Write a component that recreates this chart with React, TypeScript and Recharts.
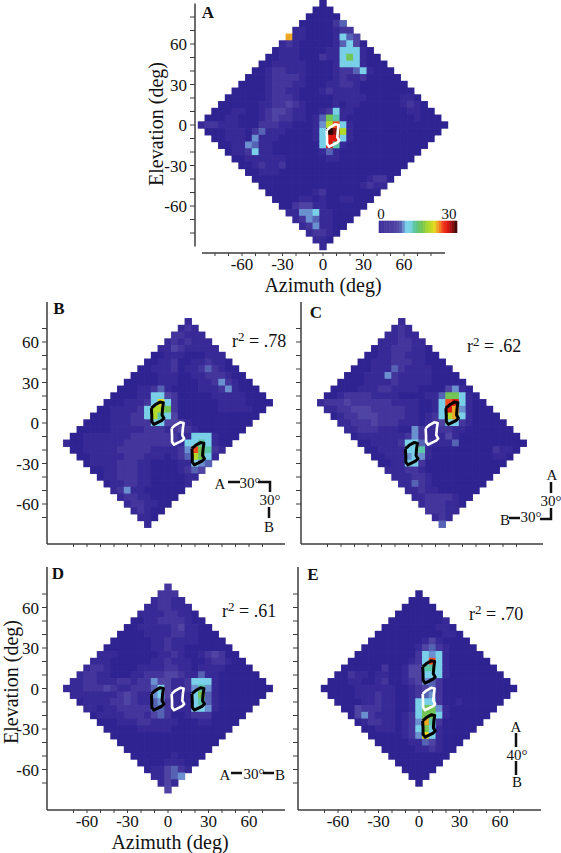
import { Bar, BarChart, ReferenceLine, Scatter, ScatterChart, XAxis, YAxis } from "recharts";

type Row = [number, string];

// one hex digit per cell, value = digit * 2 (0-30); first number is the azimuth index of the first cell
const levelColors = [
  "#2f2391", "#382a96", "#43359c", "#4f44a3", "#5662b3", "#6a90cf", "#79cfe8", "#5cc6a8",
  "#72c455", "#b5d928", "#e3d81f", "#eda725", "#f24c1e", "#dc1a10", "#8a0f10", "#2a0606",
];

// colour bar, one stop per unit from 0 to 30
const barColors = [
  "#3d2f98", "#42349c", "#45379d", "#483a9e", "#4a3ca0", "#4d3fa1", "#4f44a3", "#5249a6",
  "#5660b0", "#6a90cf", "#79cfe8", "#7bd3e8", "#75d0d8", "#5cc6a8", "#60c58c", "#68c46a",
  "#72c455", "#88cb42", "#a5d532", "#b5d928", "#cfd922", "#e3d81f", "#eda725", "#f5801f",
  "#f24c1e", "#ee2a18", "#dc1a10", "#b01010", "#8a0f10", "#4a0808",
];

const rowsA: Row[] = [
  [0, "0"], [-1, "000"], [-2, "00000"], [-3, "0000024"], [-4, "110000122"],
  [-5, "b1100001643"], [-6, "1210000014630"], [-7, "011100001166610"],
  [-8, "00111000211686100"], [-9, "0011111000016661000"], [-10, "001221110000122461000"],
  [-11, "00012222100001211200000"], [-12, "0000122211000112210000000"],
  [-13, "000001221100012111100000000"], [-14, "00000012221000001111100000110"],
  [-15, "0000001122321000010110000001210"], [-16, "000110012332110012611000000001100"],
  [-17, "00011000123221101487100000000001000"], [-18, "122111000222110001" + "59c61" + "00000000000000"],
  [-17, "00011102411100001" + "6fe91" + "0000000000000"], [-16, "0011105111000001" + "6dd61" + "000000000000"],
  [-15, "001154110000000" + "6d71" + "000000000000"], [-14, "01126110000000" + "141" + "000000000000"],
  [-13, "0011111100000" + "01100000000000"], [-12, "0012112000000000000000000"],
  [-11, "00111000000000000000000"], [-10, "000000000000000001220"], [-9, "0000000000000001211"],
  [-8, "00000001200000000"], [-7, "000011010011000"], [-6, "0023311000000"], [-5, "11556110000"],
  [-4, "125411000"], [-3, "1251100"], [-2, "12210"], [-1, "110"], [0, "1"],
];

const rowsB: Row[] = [
  [3, "1"], [2, "121"], [1, "22111"], [0, "1212111"], [-1, "113211111"], [-2, "00111000111"],
  [-3, "0011200112110"], [-4, "001112011242100"], [-5, "00001110011222100"],
  [-6, "0000011100011252100"], [-7, "000112410000111251000"], [-8, "00001166320000011111000"],
  [-9, "000111" + "26a62" + "00000011110000"], [-10, "0011112" + "69982" + "0000001111100"],
  [-11, "00011122" + "69763" + "000000000000"], [-12, "0000111222" + "66332" + "1000000000"],
  [-13, "0000011111222" + "123210000000"], [-14, "001111111222222211" + "6661000"],
  [-15, "100111111222222221" + "6676100"], [-14, "00111112222211112" + "5c8721"],
  [-13, "0011111222111012" + "49861"], [-12, "0111122211000011" + "654"], [-11, "001122211000012" + "43"],
  [-10, "011222110000011"], [-9, "0112211000001"], [-8, "12511000000"], [-7, "122110000"],
  [-6, "1221100"], [-5, "12100"], [-4, "110"], [-3, "1"],
];

const rowsC: Row[] = [
  [-3, "1"], [-4, "121"], [-5, "11211"], [-6, "1112211"], [-7, "011222110"], [-8, "00112211100"],
  [-9, "0011122211000"], [-10, "000111421111000"], [-11, "00011152111110000"],
  [-12, "0000111121111100000"], [-13, "00001112211110000" + "3510"], [-14, "00122221111000011" + "488610"],
  [-15, "122232222221111001" + "6cd6100"], [-14, "11223332222211001" + "6db51000"],
  [-13, "0122333222211012" + "69b610000"], [-12, "112223222111012" + "3662100000"],
  [-11, "1122211100" + "52" + "1122110000000"], [-10, "011111112" + "52" + "111" + "3" + "1000000000"],
  [-9, "0011112" + "6642" + "111" + "4" + "0000000000"], [-8, "001111" + "667" + "10000000002110"],
  [-7, "00111" + "565" + "1000000000110"], [-6, "0011" + "662" + "000000000000"],
  [-5, "11122100000000000"], [-4, "111221000000000"], [-3, "1142100000000"], [-2, "11211000000"],
  [-1, "112222100"], [0, "1222110"], [1, "22211"], [2, "121"], [3, "4"],
];

const rowsD: Row[] = [
  [0, "2"], [-1, "222"], [-2, "12211"], [-3, "1122111"], [-4, "111122110"], [-5, "00112222100"],
  [-6, "0011111231100"], [-7, "000011112211000"], [-8, "00000011211110000"],
  [-9, "0000000112110000000"], [-10, "111000000112100123200"], [-11, "11100000011211100122100"],
  [-12, "1221000011112211011110000"], [-13, "122110001122233211" + "4" + "11000000"],
  [-14, "112211122122" + "533112666" + "10000000"], [-15, "1112223211222" + "463112575" + "100000000"],
  [-14, "111111123211" + "563111684" + "10000000"], [-13, "01111223211" + "452111674" + "1000000"],
  [-12, "1101122222" + "442111665" + "100000"], [-11, "011112221" + "342001222" + "00000"],
  [-10, "000111221111000110000"], [-9, "0000011111000000000"], [-8, "00000000000000000"],
  [-7, "000000000000000"], [-6, "0000000000000"], [-5, "00000010000"], [-4, "000011100"],
  [-3, "0113421"], [-2, "11345"], [-1, "131"], [0, "3"],
];

const rowsE: Row[] = [
  [0, "0"], [-1, "000"], [-2, "00000"], [-3, "0000000"], [-4, "000000001"], [-5, "00000000110"],
  [-6, "0000000000110"], [-7, "000000001310000"], [-8, "000000001" + "342" + "10000"],
  [-9, "000000000" + "2656" + "100000"], [-10, "00000000012" + "6c6" + "1000000"],
  [-11, "00000020013" + "3776" + "10000000"], [-12, "002110110013" + "3666" + "100000000"],
  [-13, "0001100120012" + "3542" + "0000000000"], [-14, "00000111111001" + "2342" + "00000000000"],
  [-13, "0000111211001" + "2452" + "0000000000"], [-12, "000011211001" + "6662" + "001000000"],
  [-11, "00322211001" + "6885" + "10000000"], [-10, "0352111012" + "6886" + "1000000"],
  [-9, "012211012" + "5b72" + "000000"], [-8, "00111012" + "6861" + "00000"],
  [-7, "0000012" + "5a61" + "0000"], [-6, "000001" + "1431" + "000"], [-5, "00000112100"],
  [-4, "000000000"], [-3, "0000000"], [-2, "00000"], [-1, "000"], [0, "0"],
];

// outline of the receptive field centre, azimuth / elevation in degrees
const contourAz = [2.7, 5.5, 9, 11.6, 11, 10.6, 12, 10.5, 4.5, 3, 3, 2.7];
const contourEl = [-4, -1.5, 0.5, 0, -4, -9, -11.5, -13, -16, -14, -9.5, -4];

const labelled = [-60, -30, 0, 30, 60];
const ticksWide = [-80, -70, -60, -50, -40, -30, -20, -10, 0, 10, 20, 30, 40, 50, 60, 70, 80];
const ticksNarrow = [-70, -60, -50, -40, -30, -20, -10, 0, 10, 20, 30, 40, 50, 60, 70];
const barTicks = [0, 5, 10, 15, 20, 25, 30];

const serif = "'Liberation Serif', serif";
const axisColor = "#3c3c3c";
const PX = 1.35; // pixels per degree

const toCells = (rows: Row[]) => {
  const top = (rows.length - 1) / 2;
  return rows.flatMap(([x0, s], r) =>
    s.split("").map((c, k) => ({ x: (x0 + k) * 5, y: (top - r) * 5, v: parseInt(c, 16) * 2 })),
  );
};

const contour = (dx: number, dy: number) =>
  contourAz.map((a, i) => ({ x: a + dx, y: contourEl[i] + dy }));

// squares overlap a little, otherwise the antialiased edges leave seams
const CellSquare = (p: any) => (
  <rect x={p.cx - 3.7} y={p.cy - 3.7} width={7.4} height={7.4} fill={levelColors[p.payload.v / 2]} />
);
const NoPoint = () => null;

type PanelProps = {
  rows: Row[];
  cx: number; cy: number; // pixel position of 0,0
  axisX: number; axisY: number; right: number; top: number;
  xLine: [number, number]; yLine: [number, number];
  ticks: number[];
  xLabels?: boolean; yLabels?: boolean;
  white: [number, number][];
  black: [number, number][];
};

const Panel = ({ rows, cx, cy, axisX, axisY, right, top, xLine, yLine, ticks, xLabels, yLabels, white, black }: PanelProps) => {
  const yw = 45;
  const xh = 30;
  const w = right - axisX;
  const h = axisY - top;
  const xd: [number, number] = [(axisX - cx) / PX, (right - cx) / PX];
  const yd: [number, number] = [(cy - axisY) / PX, (cy - top) / PX];
  const tickStyle = { fontFamily: serif, fontSize: 17, fill: "#111" };
  return (
    <div style={{ position: "absolute", left: axisX - yw, top }}>
      <ScatterChart width={w + yw} height={h + xh} margin={{ top: 0, right: 0, bottom: 0, left: 0 }}>
        <XAxis
          type="number" dataKey="x" domain={xd} ticks={ticks} interval={0} height={xh}
          axisLine={false} tickLine={{ stroke: axisColor }} tickSize={3} tickMargin={2}
          tick={tickStyle} tickFormatter={(v: number) => (xLabels && labelled.includes(v) ? String(v) : "")}
        />
        <YAxis
          type="number" dataKey="y" domain={yd} ticks={ticks} interval={0} width={yw}
          axisLine={false} tickLine={{ stroke: axisColor }} tickSize={5} tickMargin={3}
          tick={tickStyle} tickFormatter={(v: number) => (yLabels && labelled.includes(v) ? String(v) : "")}
        />
        <ReferenceLine
          segment={[{ x: xd[0], y: (cy - yLine[0]) / PX }, { x: xd[0], y: (cy - yLine[1]) / PX }]}
          stroke={axisColor} strokeWidth={1.5}
        />
        <ReferenceLine
          segment={[{ x: (xLine[0] - cx) / PX, y: yd[0] }, { x: (xLine[1] - cx) / PX, y: yd[0] }]}
          stroke={axisColor} strokeWidth={1.5}
        />
        <Scatter data={toCells(rows)} shape={CellSquare} isAnimationActive={false} />
        {white.map(([dx, dy], i) => (
          <Scatter key={"w" + i} data={contour(dx, dy)} line={{ stroke: "#fff", strokeWidth: 2.6, strokeLinejoin: "round" }} shape={NoPoint} isAnimationActive={false} />
        ))}
        {black.map(([dx, dy], i) => (
          <Scatter key={"b" + i} data={contour(dx, dy)} line={{ stroke: "#000", strokeWidth: 3, strokeLinejoin: "round" }} shape={NoPoint} isAnimationActive={false} />
        ))}
      </ScatterChart>
    </div>
  );
};

const ColorBar = () => {
  const row: Record<string, number> = { name: 0 };
  barColors.forEach((_, i) => (row["s" + i] = 1));
  return (
    <div style={{ position: "absolute", left: 371, top: 205 }}>
      <BarChart width={94} height={28} data={[row]} layout="vertical" barCategoryGap={0}
        margin={{ top: 0, right: 8, bottom: 0, left: 8 }}>
        <XAxis type="number" orientation="top" domain={[0, 30]} ticks={barTicks} interval={0} height={16}
          axisLine={false} tick={false} tickSize={2} tickLine={{ stroke: "#333" }} />
        <YAxis type="category" dataKey="name" hide />
        {barColors.map((c, i) => (
          <Bar key={i} dataKey={"s" + i} stackId="a" fill={c} stroke={c} strokeWidth={0.6} isAnimationActive={false} />
        ))}
      </BarChart>
    </div>
  );
};

const T = ({ x, y, size = 15, bold, anchor = "middle", children }: any) => (
  <text x={x} y={y} fontSize={size} fontWeight={bold ? "bold" : "normal"} textAnchor={anchor} fill="#111" fontFamily={serif}>
    {children}
  </text>
);
const Bar2 = ({ d }: { d: string }) => <path d={d} stroke="#111" strokeWidth={2.5} fill="none" />;
const RSq = ({ x, y, value }: { x: number; y: number; value: string }) => (
  <text x={x} y={y} fontSize={18} fill="#111" fontFamily={serif}>
    r<tspan dy={-6} fontSize={13}>2</tspan><tspan dy={6}> = {value}</tspan>
  </text>
);

const Notes = () => (
  <svg width={561} height={853} style={{ position: "absolute", left: 0, top: 0 }}>
    <T x={208} y={18} size={17} bold>A</T>
    <T x={59} y={314} size={17} bold>B</T>
    <T x={316} y={318} size={17} bold>C</T>
    <T x={58} y={579} size={17} bold>D</T>
    <T x={313} y={580} size={17} bold>E</T>

    <T x={323} y={292} size={20}>Azimuth (deg)</T>
    <T x={170} y={849} size={20}>Azimuth (deg)</T>
    <g transform="translate(163,124) rotate(-90)"><T x={0} y={0} size={20}>Elevation (deg)</T></g>
    <g transform="translate(18,682) rotate(-90)"><T x={0} y={0} size={20}>Elevation (deg)</T></g>

    <T x={381} y={219} size={15}>0</T>
    <T x={449} y={219} size={15}>30</T>

    <RSq x={232} y={347} value=".78" />
    <RSq x={467} y={352} value=".62" />
    <RSq x={222} y={617} value=".61" />
    <RSq x={469} y={620} value=".70" />

    <T x={220} y={489}>A</T>
    <Bar2 d="M228 482H240" />
    <T x={250} y={488}>30°</T>
    <Bar2 d="M258 482H270V492" />
    <T x={270} y={505}>30°</T>
    <Bar2 d="M269 507V518" />
    <T x={269} y={532}>B</T>

    <T x={552} y={480}>A</T>
    <Bar2 d="M551 482V493" />
    <T x={551} y={506}>30°</T>
    <Bar2 d="M551 508V519H540" />
    <T x={531} y={522}>30°</T>
    <Bar2 d="M509 518H520" />
    <T x={505} y={525}>B</T>

    <T x={225} y={780}>A</T>
    <Bar2 d="M231 773H242" />
    <T x={254} y={779}>30°</T>
    <Bar2 d="M263 773H274" />
    <T x={280} y={780}>B</T>

    <T x={516} y={732}>A</T>
    <Bar2 d="M516 733V747" />
    <T x={517} y={760}>40°</T>
    <Bar2 d="M516 761V775" />
    <T x={517} y={787}>B</T>
  </svg>
);

export default function App() {
  return (
    <div style={{ position: "absolute", left: 0, top: 0, width: 561, height: 853, overflow: "hidden" }}>
      <Panel rows={rowsA} cx={323} cy={125} axisX={195} axisY={253} right={451} top={0}
        xLine={[202, 445]} yLine={[3.5, 246.5]} ticks={ticksWide} xLabels yLabels white={[[0, 0]]} black={[]} />
      <Panel rows={rowsB} cx={168} cy={423} axisX={47} axisY={544} right={285} top={302}
        xLine={[47, 285]} yLine={[302, 544]} ticks={ticksNarrow} yLabels white={[[0, 0]]} black={[[-15, 15], [15, -15]]} />
      <Panel rows={rowsC} cx={422} cy={423} axisX={301} axisY={544} right={543} top={302}
        xLine={[301, 543]} yLine={[302, 544]} ticks={ticksNarrow} white={[[0, 0]]} black={[[15, 15], [-15, -15]]} />
      <Panel rows={rowsD} cx={168} cy={688.5} axisX={47} axisY={810} right={285} top={567}
        xLine={[47, 285]} yLine={[567, 810]} ticks={ticksNarrow} xLabels yLabels white={[[0, 0]]} black={[[-15, 0], [15, 0]]} />
      <Panel rows={rowsE} cx={419} cy={688.5} axisX={298} axisY={810} right={541} top={567}
        xLine={[298, 541]} yLine={[567, 810]} ticks={ticksNarrow} xLabels white={[[0, 0]]} black={[[0, 20], [0, -20]]} />
      <ColorBar />
      <Notes />
    </div>
  );
}
